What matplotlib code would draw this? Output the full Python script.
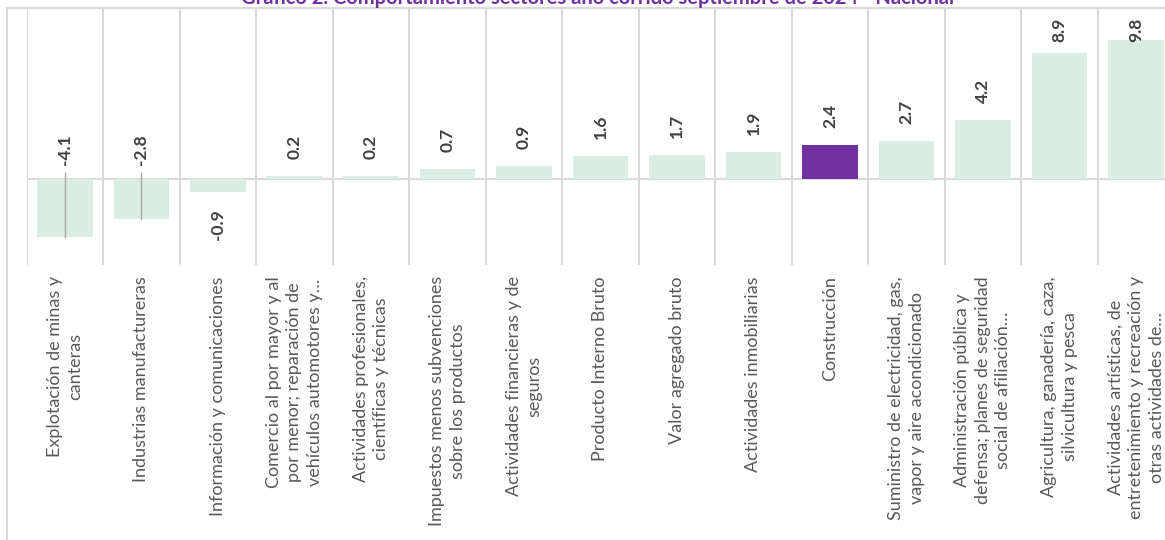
import matplotlib
matplotlib.use("Agg")
import matplotlib.pyplot as plt
from matplotlib.patches import Rectangle
import numpy as np

plt.rcParams['font.family'] = ['Lato', 'DejaVu Sans']

# data
sectores = [
    "Explotación de minas y\ncanteras",
    "Industrias manufactureras",
    "Información y comunicaciones",
    "Comercio al por mayor y al\npor menor; reparación de\nvehículos automotores y…",
    "Actividades profesionales,\ncientíficas y técnicas",
    "Impuestos menos subvenciones\nsobre los productos",
    "Actividades financieras y de\nseguros",
    "Producto Interno Bruto",
    "Valor agregado bruto",
    "Actividades inmobiliarias",
    "Construcción",
    "Suministro de electricidad, gas,\nvapor y aire acondicionado",
    "Administración pública y\ndefensa; planes de seguridad\nsocial de afiliación…",
    "Agricultura, ganadería, caza,\nsilvicultura y pesca",
    "Actividades artísticas, de\nentretenimiento y recreación y\notras actividades de…",
]
variacion = [-4.1, -2.8, -0.9, 0.2, 0.2, 0.7, 0.9, 1.6, 1.7, 1.9, 2.4, 2.7, 4.2, 8.9, 9.8]
destacado = "Construcción"
titulo = "Gráfico 2. Comportamiento sectores año corrido septiembre de 2024 - Nacional"

verde = "#d9ede2"
morado = "#7030a0"
gris_linea = "#d9d9d9"

W, H = 1165, 540
fig = plt.figure(figsize=(W / 100, H / 100), dpi=100)

# outer chart border
fig.patches.append(Rectangle((6.7 / W, -0.05), 1.1, 1 - 8.3 / H + 0.05,
                             transform=fig.transFigure, fill=False,
                             edgecolor=gris_linea, lw=1.5, zorder=0))

ax = fig.add_axes([26.7 / W, 1 - 265 / H, 15 * 76.5 / W, (265 - 8.3) / H])
x = np.arange(len(variacion))
colores = [morado if s == destacado else verde for s in sectores]
ax.bar(x, variacion, width=0.73, color=colores, zorder=2)

ax.set_xlim(-0.5, len(variacion) - 0.5)
ax.set_ylim(-6.08, 12.06)
for b in np.arange(-0.5, len(variacion), 1.0):
    ax.axvline(b, color=gris_linea, lw=1.5, zorder=1)
ax.axhline(0, color=gris_linea, lw=1.5, zorder=1)
for s in ax.spines.values():
    s.set_visible(False)
ax.set_yticks([])
ax.set_xticks(x)
ax.set_xticklabels(sectores, rotation=90, ha='center', va='top',
                   multialignment='center', fontsize=13, linespacing=1.35,
                   color='#595959')
ax.tick_params(axis='x', length=0, pad=8)

# data labels
for xi, v in zip(x, variacion):
    txt = f"{v:.1f}"
    kw = dict(rotation=90, ha='center', fontsize=12.5, fontweight='bold',
              color='#404040', zorder=4)
    if v <= -2:
        ax.text(xi, 1.0, txt, va='bottom', **kw)
        ax.plot([xi, xi], [0.45, v], color='#a6a6a6', lw=1, zorder=3)
    elif v < 0:
        ax.text(xi, v - 1.25, txt, va='top', **kw)
    else:
        ax.text(xi, min(v + 1.2, 9.7), txt, va='bottom', **kw)

fig.text(598 / W, 1 - 4 / H, titulo, ha='center', va='baseline',
         fontsize=14.5, fontweight='bold', color=morado)

fig.savefig("out.png", dpi=100)
